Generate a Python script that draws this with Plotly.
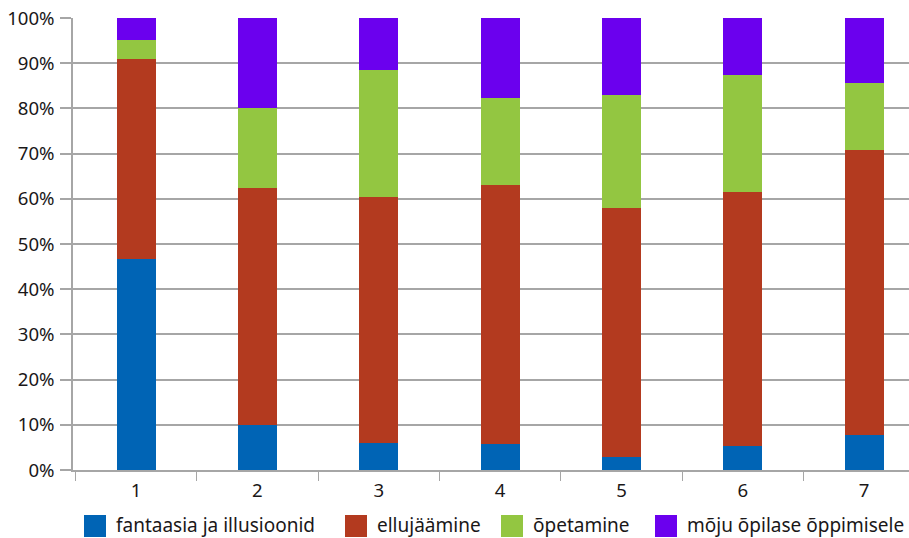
import plotly.graph_objects as go

categories = ["1", "2", "3", "4", "5", "6", "7"]
series_names = ["fantaasia ja illusioonid", "ellujäämine", "õpetamine", "mõju õpilase õppimisele"]
fantaasia = [46.7, 10.0, 6.0, 5.8, 2.9, 5.4, 7.7]
ellujaamine = [44.3, 52.3, 54.5, 57.2, 55.0, 56.2, 63.2]
opetamine = [4.2, 17.8, 28.1, 19.2, 25.1, 25.9, 14.7]
moju = [4.8, 19.9, 11.4, 17.8, 17.0, 12.5, 14.4]
y_ticks = [0, 10, 20, 30, 40, 50, 60, 70, 80, 90, 100]
y_tick_labels = [f"{v}%" for v in y_ticks]

colors = ["#0064B5", "#B33A1F", "#93C641", "#6B00EE"]
series = [fantaasia, ellujaamine, opetamine, moju]

W, H = 909, 538
ML, MR, MT, MB = 73, 0, 18, 68
PW = W - ML - MR
PH = H - MT - MB

def px_to_paper_x(px):
    return (px - ML) / PW

def px_to_paper_y(py):
    return (H - MB - py) / PH

FONT = "Noto Sans"
TXT = "#1A1718"
FS = 18.6
FS_LEG = 19

fig = go.Figure()
for name, vals, col in zip(series_names, series, colors):
    fig.add_trace(go.Bar(
        x=categories, y=vals, name=name,
        marker=dict(color=col, line=dict(width=0)),
        width=0.32, showlegend=False,
    ))

# manual legend
leg_sq_x = [84, 345, 501, 655]
for name, col, sx in zip(series_names, colors, leg_sq_x):
    fig.add_shape(type="rect", xref="paper", yref="paper",
                  x0=px_to_paper_x(sx), x1=px_to_paper_x(sx + 22),
                  y0=px_to_paper_y(537), y1=px_to_paper_y(515),
                  fillcolor=col, line=dict(width=0))
    fig.add_annotation(xref="paper", yref="paper",
                       x=px_to_paper_x(sx + 30), y=px_to_paper_y(525),
                       xanchor="left", yanchor="middle", showarrow=False,
                       text=name, font=dict(family=FONT, size=FS_LEG, color=TXT))

fig.update_layout(
    width=W, height=H,
    margin=dict(l=ML, r=MR, t=MT, b=MB, pad=0),
    barmode="stack",
    plot_bgcolor="white", paper_bgcolor="white",
    font=dict(family=FONT, size=FS, color=TXT),
    showlegend=False,
    xaxis=dict(
        type="category", range=[-0.52, 6.37],
        showgrid=False, zeroline=False,
        showline=True, linecolor="#A6A6A6", linewidth=1.5,
        ticks="outside", tickson="boundaries", ticklen=9, tickcolor="#A6A6A6", tickwidth=1,
        tickfont=dict(family=FONT, size=FS, color=TXT),
        ticklabelstandoff=3,
    ),
    yaxis=dict(
        range=[0, 100], tickvals=y_ticks, ticktext=y_tick_labels,
        showgrid=True, gridcolor="#A6A6A6", gridwidth=1.5,
        zeroline=False,
        showline=True, linecolor="#A6A6A6", linewidth=1.5,
        ticks="outside", ticklen=11, tickcolor="#A6A6A6", tickwidth=1.5,
        tickfont=dict(family=FONT, size=FS, color=TXT),
        ticklabelstandoff=2,
    ),
)

fig.write_html("out.html", config={"displayModeBar": False},
               post_script="document.body.style.margin='0';document.body.style.overflow='hidden';")
